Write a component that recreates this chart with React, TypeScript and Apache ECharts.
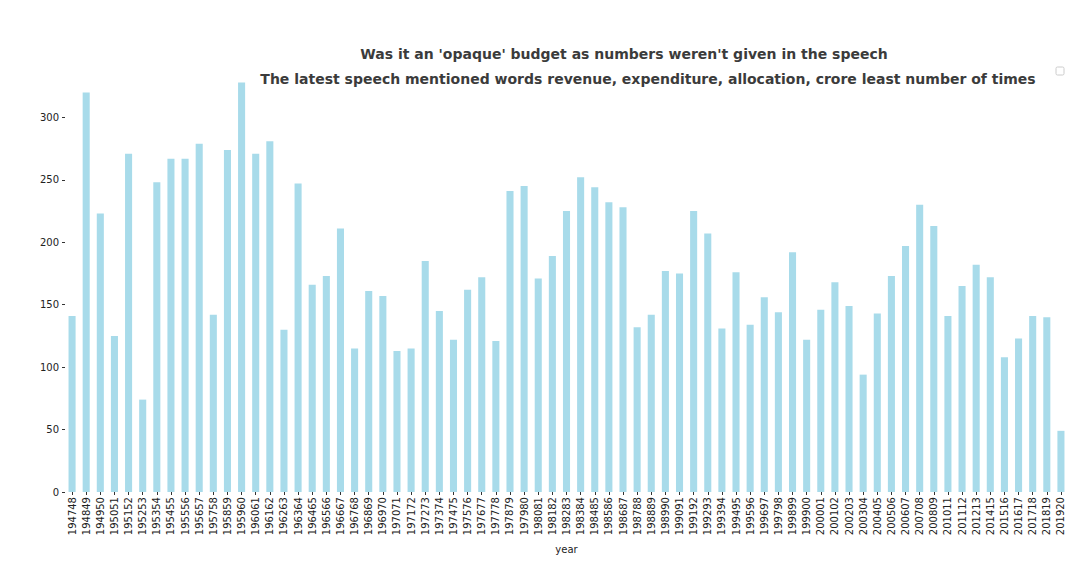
import { useEffect, useRef } from "react";
import * as echarts from "echarts";

const years = [
  "194748", "194849", "194950", "195051", "195152", "195253", "195354", "195455", "195556", "195657",
  "195758", "195859", "195960", "196061", "196162", "196263", "196364", "196465", "196566", "196667",
  "196768", "196869", "196970", "197071", "197172", "197273", "197374", "197475", "197576", "197677",
  "197778", "197879", "197980", "198081", "198182", "198283", "198384", "198485", "198586", "198687",
  "198788", "198889", "198990", "199091", "199192", "199293", "199394", "199495", "199596", "199697",
  "199798", "199899", "199900", "200001", "200102", "200203", "200304", "200405", "200506", "200607",
  "200708", "200809", "201011", "201112", "201213", "201415", "201516", "201617", "201718", "201819",
  "201920",
];

const counts = [
  141, 320, 223, 125, 271, 74, 248, 267, 267, 279,
  142, 274, 328, 271, 281, 130, 247, 166, 173, 211,
  115, 161, 157, 113, 115, 185, 145, 122, 162, 172,
  121, 241, 245, 171, 189, 225, 252, 244, 232, 228,
  132, 142, 177, 175, 225, 207, 131, 176, 134, 156,
  144, 192, 122, 146, 168, 149, 94, 143, 173, 197,
  230, 213, 141, 165, 182, 172, 108, 123, 141, 140,
  49,
];

const yTicks = [0, 50, 100, 150, 200, 250, 300];

const FONT = "DejaVu Sans";
const titleStyle = { fontFamily: FONT, fontSize: 14, fontWeight: "bold", color: "#3b3b3b" };

export default function App() {
  const ref = useRef<HTMLDivElement>(null);

  useEffect(() => {
    if (!ref.current) return;
    const chart = echarts.init(ref.current, undefined, { renderer: "svg" });
    chart.setOption({
      animation: false,
      textStyle: { fontFamily: FONT },
      title: [
        {
          text: "Was it an 'opaque' budget as numbers weren't given in the speech",
          left: 611,
          textAlign: "center",
          top: 34,
          textStyle: titleStyle,
        },
        {
          text: "The latest speech mentioned words revenue, expenditure, allocation, crore least number of times",
          left: 635,
          textAlign: "center",
          top: 59,
          textStyle: titleStyle,
        },
      ],
      grid: { left: 57, right: 14, top: 47, bottom: 62 },
      xAxis: {
        type: "category",
        data: years,
        name: "year",
        nameLocation: "middle",
        nameGap: 52,
        nameTextStyle: { fontFamily: FONT, fontSize: 10, color: "#222" },
        axisLine: { show: false },
        axisTick: { show: true, alignWithLabel: true, length: 3, lineStyle: { color: "#333" } },
        axisLabel: { rotate: 90, interval: 0, fontSize: 10, color: "#222", fontFamily: FONT, margin: 5 },
      },
      yAxis: {
        type: "value",
        min: 0,
        max: 350,
        interval: 50,
        axisLine: { show: false },
        axisTick: { show: true, length: 3, lineStyle: { color: "#333" }, customValues: yTicks },
        splitLine: { show: false },
        axisLabel: {
          fontSize: 10, color: "#222", fontFamily: FONT, margin: 6,
          customValues: yTicks,
        },
      },
      series: [
        {
          type: "bar",
          data: counts,
          barWidth: "50%",
          itemStyle: { color: "#a8dbea" },
        },
      ],
      graphic: [
        {
          type: "rect",
          shape: { x: 1048, y: 59, width: 8, height: 8, r: 1.5 },
          style: { fill: "#fff", stroke: "#ccc", lineWidth: 1 },
        },
      ],
    });
    return () => chart.dispose();
  }, []);

  return <div ref={ref} style={{ width: 1074, height: 551 }} />;
}
